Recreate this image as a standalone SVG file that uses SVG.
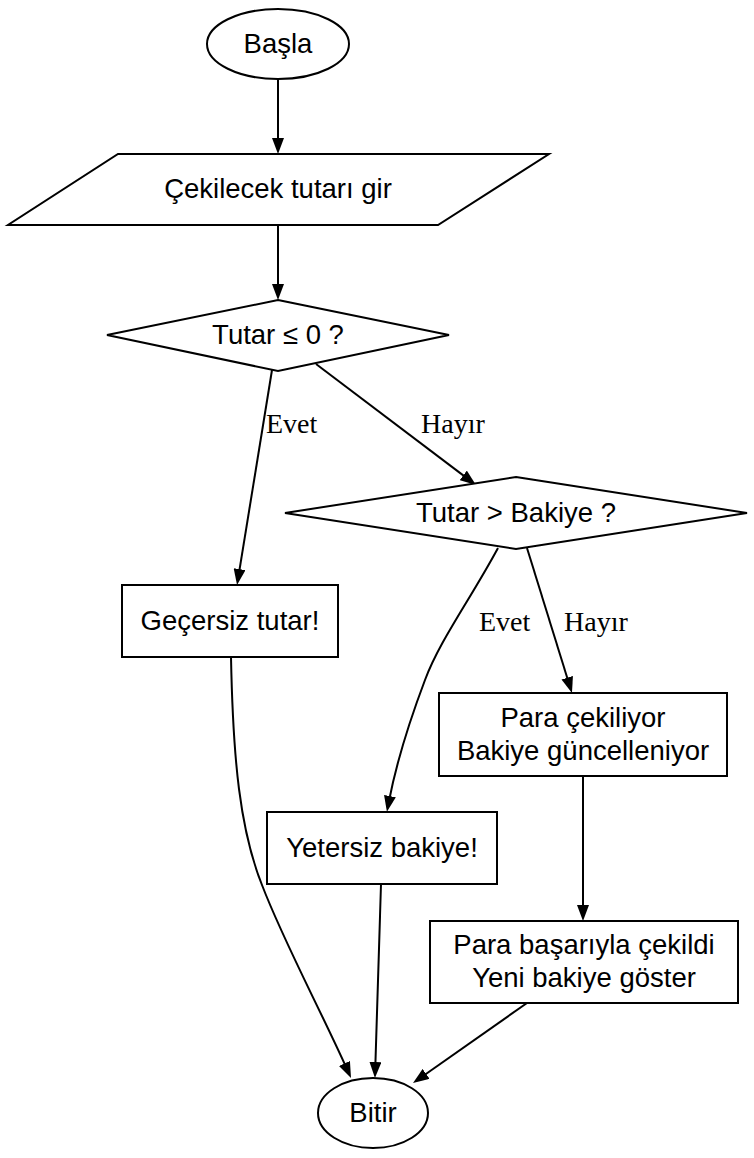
<svg xmlns="http://www.w3.org/2000/svg" width="754" height="1158" viewBox="0 0 754 1158">
<defs>
<style>
.shape{fill:#ffffff;stroke:#000000;stroke-width:2}
.edge{fill:none;stroke:#000000;stroke-width:2}
.nt{font-family:"Liberation Sans",Arial,sans-serif;font-size:27.5px;fill:#000000;text-anchor:middle}
.lt{font-family:"Liberation Serif","Times New Roman",serif;font-size:28px;fill:#000000}
</style>
<marker id="ah" markerWidth="16" markerHeight="12" refX="5" refY="6" orient="auto" markerUnits="userSpaceOnUse">
<path d="M0,0 L16,6 L0,12 z" fill="#000000"/>
</marker>
</defs>
<rect width="754" height="1158" fill="#ffffff"/>
<g id="connectors">
<path class="edge" marker-end="url(#ah)" d="M278,80 L278,143"/>
<path class="edge" marker-end="url(#ah)" d="M278,225 L278,289"/>
<path class="edge" marker-end="url(#ah)" d="M272,370 L238.8,574.1"/>
<text class="lt" x="266" y="433">Evet</text>
<path class="edge" marker-end="url(#ah)" d="M316,364 L467.2,478.4"/>
<text class="lt" x="421" y="433">Hayır</text>
<path class="edge" marker-end="url(#ah)" d="M498,548 C470,600 440,640 425,680 C408,725 395,770 389,801"/>
<text class="lt" x="479" y="631">Evet</text>
<path class="edge" marker-end="url(#ah)" d="M527,548 L568.7,682.5"/>
<text class="lt" x="564" y="631">Hayır</text>
<path class="edge" marker-end="url(#ah)" d="M231,657 C233,760 240,830 262,885 C283,940 318,1005 346.5,1068"/>
<path class="edge" marker-end="url(#ah)" d="M583,776 L583,910"/>
<path class="edge" marker-end="url(#ah)" d="M381,884 L375.3,1067"/>
<path class="edge" marker-end="url(#ah)" d="M527,1003 L422,1076.7"/>
</g>
<g id="basla">
<ellipse class="shape" cx="278" cy="44" rx="71" ry="35"/>
<text class="nt" x="278" y="53">Başla</text>
</g>
<g id="giris">
<polygon class="shape" points="118,154 549,154 438,225 8,225"/>
<text class="nt" x="278" y="198">Çekilecek tutarı gir</text>
</g>
<g id="karar1">
<polygon class="shape" points="278,300 449,335 278,371 107,335"/>
<text class="nt" x="278" y="344">Tutar ≤ 0 ?</text>
</g>
<g id="karar2">
<polygon class="shape" points="516,477 747,513 516,549 285,513"/>
<text class="nt" x="516" y="522">Tutar &gt; Bakiye ?</text>
</g>
<g id="gecersiz">
<rect class="shape" x="122" y="585" width="216" height="72"/>
<text class="nt" x="230" y="630">Geçersiz tutar!</text>
</g>
<g id="cekiliyor">
<rect class="shape" x="439" y="693" width="288" height="83"/>
<text class="nt" x="583" y="727">Para çekiliyor</text>
<text class="nt" x="583" y="760">Bakiye güncelleniyor</text>
</g>
<g id="yetersiz">
<rect class="shape" x="267" y="812" width="230" height="72"/>
<text class="nt" x="382" y="857">Yetersiz bakiye!</text>
</g>
<g id="basarili">
<rect class="shape" x="430" y="921" width="308" height="82"/>
<text class="nt" x="584" y="954">Para başarıyla çekildi</text>
<text class="nt" x="584" y="987">Yeni bakiye göster</text>
</g>
<g id="bitir">
<ellipse class="shape" cx="373" cy="1113" rx="55" ry="35"/>
<text class="nt" x="373" y="1122">Bitir</text>
</g>
</svg>
